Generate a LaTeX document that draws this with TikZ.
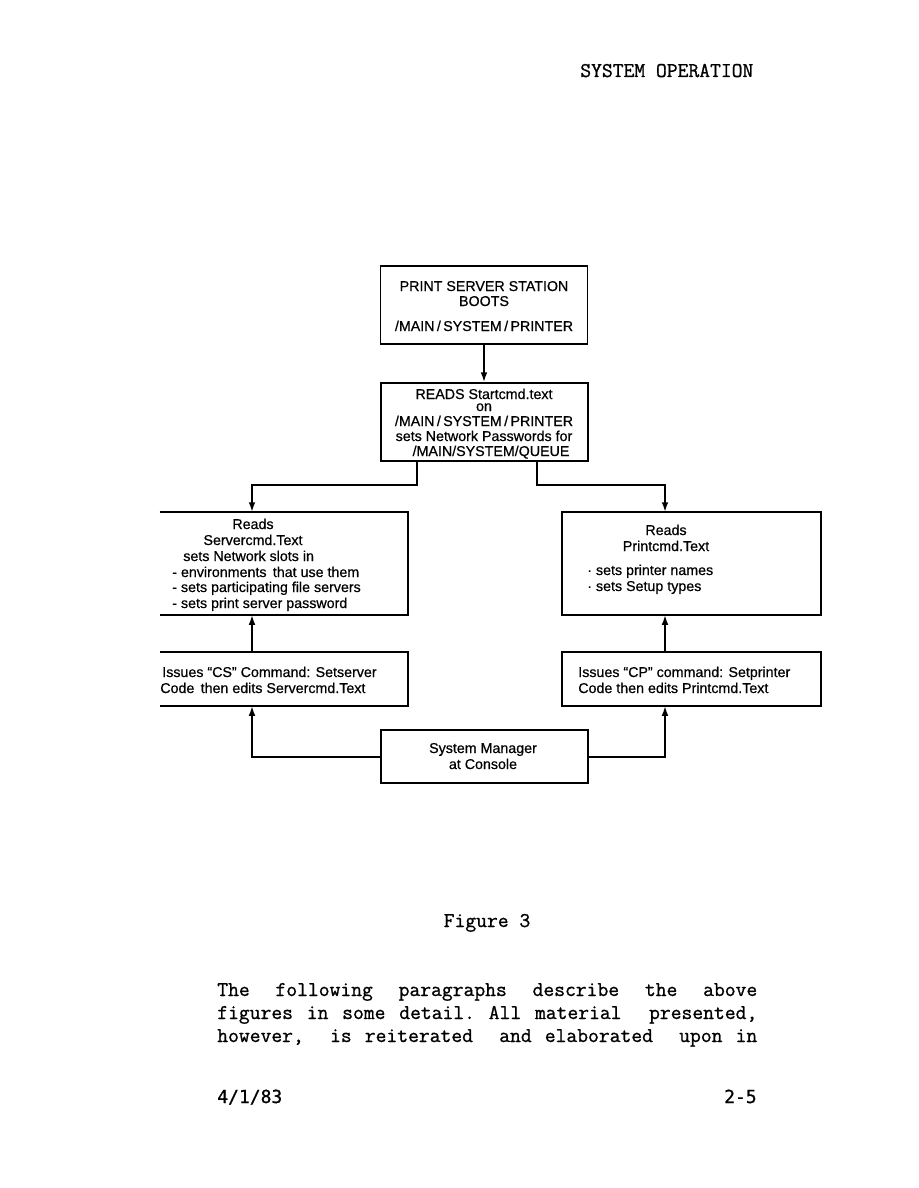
\documentclass[tikz,border=0pt]{standalone}
\usepackage{fontspec}
\usetikzlibrary{arrows.meta}
\newfontfamily\hvfont[FakeBold=0.6]{Liberation Sans}
\newfontfamily\twfont[FakeBold=1.0]{Latin Modern Mono}
\newfontfamily\lgfont[FakeBold=0.8]{DejaVu Sans Mono}
\begin{document}
\begin{tikzpicture}[x={(0.6667pt,0)},y={(0,-0.6667pt)},
  box/.style={draw,line width=1.1pt,inner sep=0pt,rectangle},
  openbox/.style={draw=none,inner sep=0pt,rectangle},
  t/.style={inner sep=0pt,font=\hvfont\fontsize{9.5}{11}\selectfont},
  tw/.style={inner sep=0pt,font=\twfont\fontsize{14}{16}\selectfont},
  lg/.style={inner sep=0pt,font=\lgfont\fontsize{12}{14}\selectfont},
  conn/.style={line width=1.2pt},
  arr/.style={conn,-{Latex[length=6.5pt,width=4.5pt]}}]
\useasboundingbox (0,0) rectangle (918,1188);
% header
\node[tw,anchor=base west] (hdr) at (580,77) {SYSTEM OPERATION};
% boxes
\node[box,minimum width=207*0.6667pt,minimum height=78*0.6667pt] (b1) at (484,305) {};
\node[box,minimum width=207*0.6667pt,minimum height=78*0.6667pt] (b2) at (484.5,422) {};
\node[openbox,minimum width=248*0.6667pt,minimum height=103*0.6667pt] (la) at (284,563.5) {};
\node[box,minimum width=259*0.6667pt,minimum height=103*0.6667pt] (ra) at (691.5,563.5) {};
\node[openbox,minimum width=248*0.6667pt,minimum height=54*0.6667pt] (lb) at (284,679) {};
\node[box,minimum width=259*0.6667pt,minimum height=54*0.6667pt] (rb) at (691.5,679) {};
\node[box,minimum width=207*0.6667pt,minimum height=53*0.6667pt] (sm) at (484.5,756.5) {};
\draw[line width=1.1pt] (la.north west) -- (la.north east) -- (la.south east) -- (la.south west);
\draw[line width=1.1pt] (lb.north west) -- (lb.north east) -- (lb.south east) -- (lb.south west);
% box texts
\node[t,anchor=base] (b1t1) at (484,291) {PRINT SERVER STATION};
\node[t,anchor=base] (b1t2) at (484,306) {BOOTS};
\node[t,anchor=base] (b1t3) at (484,331) {/MAIN\,/\,SYSTEM\,/\,PRINTER};
\node[t,anchor=base] (b2t1) at (484,399) {READS Startcmd.text};
\node[t,anchor=base] (b2t2) at (484,411) {on};
\node[t,anchor=base] (b2t3) at (484,426) {/MAIN\,/\,SYSTEM\,/\,PRINTER};
\node[t,anchor=base] (b2t4) at (484,441) {sets Network Passwords for};
\node[t,anchor=base] (b2t5) at (491,456) {/MAIN/SYSTEM/QUEUE};
\node[t,anchor=base] (lat1) at (253,529) {Reads};
\node[t,anchor=base] (lat2) at (253,545) {Servercmd.Text};
\node[t,anchor=base west] (lat3) at (183,561) {sets Network slots in};
\node[t,anchor=base west] (lat4) at (172,577) {- environments\, that use them};
\node[t,anchor=base west] (lat5) at (172,592) {- sets participating file servers};
\node[t,anchor=base west] (lat6) at (172,608) {- sets print server password};
\node[t,anchor=base] (rat1) at (666,535) {Reads};
\node[t,anchor=base] (rat2) at (666,551) {Printcmd.Text};
\node[t,anchor=base west] (rat3) at (587,575) {· sets printer names};
\node[t,anchor=base west] (rat4) at (587,591) {· sets Setup types};
\node[t,anchor=base west] (lbt1) at (162,677) {Issues “CS” Command: Setserver};
\node[t,anchor=base west] (lbt2) at (160,693) {Code\, then edits Servercmd.Text};
\node[t,anchor=base west] (rbt1) at (578,677) {Issues “CP” command: Setprinter};
\node[t,anchor=base west] (rbt2) at (578,693) {Code then edits Printcmd.Text};
\node[t,anchor=base] (smt1) at (483,753) {System Manager};
\node[t,anchor=base] (smt2) at (483,769) {at Console};
% connector coordinates
\coordinate (s1) at (417,461);
\coordinate (s2) at (537,461);
\coordinate (laIn) at (252,512);
\coordinate (raIn) at (665,512);
\coordinate (laOut) at (252,615);
\coordinate (raOut) at (665,615);
\coordinate (lbIn) at (252,652);
\coordinate (rbIn) at (665,652);
\coordinate (lbOut) at (252,706);
\coordinate (rbOut) at (665,706);
\coordinate (smL) at (381,757);
\coordinate (smR) at (588,757);
\draw[arr] (b1.south) -- (b1.south |- b2.north);
\draw[arr] (s1) -- (417,485) -| (laIn);
\draw[arr] (s2) -- (537,485) -| (raIn);
\draw[arr] (lbIn) -- (laOut);
\draw[arr] (rbIn) -- (raOut);
\draw[arr] (smL) -| (lbOut);
\draw[arr] (smR) -| (rbOut);
% caption and text
\node[tw,anchor=base] (fig) at (487,927) {Figure 3};
\node[tw,anchor=base west] (p1) at (217,996) {\makebox[360pt][s]{The\hfill following\hfill paragraphs\hfill describe\hfill the\hfill above}};
\node[tw,anchor=base west] (p2) at (217,1019) {\makebox[360pt][s]{figures\hfill in\hfill some\hfill detail.\hfill All\hfill material\hfill\hfill presented,}};
\node[tw,anchor=base west] (p3) at (217,1042) {\makebox[360pt][s]{however,\hfill\hfill is\hfill reiterated\hfill\hfill and\hfill elaborated\hfill\hfill upon\hfill in}};
\node[lg,anchor=base west] (f1) at (217,1103) {4/1/83};
\node[lg,anchor=base east] (f2) at (757,1103) {2-5};
\end{tikzpicture}
\end{document}
